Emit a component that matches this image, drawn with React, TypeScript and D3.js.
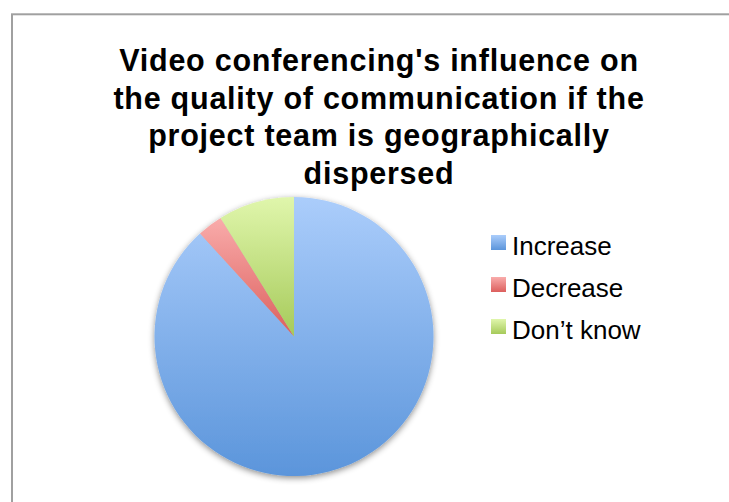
import React from "react";
import * as d3 from "d3";

const categories = ["Increase", "Decrease", "Don’t know"];
const values = [30, 1, 3];
const titleLines = [
  "Video conferencing's influence on",
  "the quality of communication if the",
  "project team is geographically",
  "dispersed",
];
const gradTop = ["#abcdfb", "#f9acab", "#e0f6ac"];
const gradBottom = ["#5b95db", "#dc5f5d", "#a6ca5a"];

export default function App() {
  const W = 729;
  const H = 502;
  const cx = 294;
  const cy = 336.5;
  const r = 139.5;
  const pie = d3.pie<number>().sort(null).value((d) => d);
  const arcs = pie(values);
  const arc = d3.arc<d3.PieArcDatum<number>>().innerRadius(0).outerRadius(r);
  const legendY = d3.scaleLinear().domain([0, 1]).range([255, 297]);
  return (
    <svg width={W} height={H} style={{ position: "absolute", left: 0, top: 0 }}>
      <defs>
        {categories.map((c, i) => (
          <linearGradient key={c} id={"g" + i} x1="0" y1="0" x2="0" y2="1">
            <stop offset="0" stopColor={gradTop[i]} />
            <stop offset="1" stopColor={gradBottom[i]} />
          </linearGradient>
        ))}
        <filter id="sh" x="-20%" y="-20%" width="140%" height="140%">
          <feDropShadow dx="0" dy="2" stdDeviation="3" floodColor="#000" floodOpacity="0.45" />
        </filter>
      </defs>
      <rect width={W} height={H} fill="#fff" />
      <rect x={12} y={14.3} width={W + 20} height={H + 20} fill="none" stroke="#a0a0a0" strokeWidth={2} />
      <g fontFamily="'Liberation Sans', Arial, sans-serif" fontWeight="bold" fontSize={30.5} letterSpacing={0.75} textAnchor="middle" fill="#000">
        {titleLines.map((t, i) => (
          <text key={i} x={379} y={71 + i * 37.5}>
            {t}
          </text>
        ))}
      </g>
      <g transform={`translate(${cx},${cy})`} filter="url(#sh)">
        {arcs.map((a, i) => (
          <path key={i} d={arc(a) || ""} fill={`url(#g${i})`} />
        ))}
      </g>
      <g fontFamily="'Liberation Sans', Arial, sans-serif" fontSize={26} fill="#000">
        {categories.map((c, i) => (
          <g key={c}>
            <rect x={491} y={legendY(i) - 20} width={15} height={15} fill={`url(#g${i})`} />
            <text x={512} y={legendY(i)}>
              {c}
            </text>
          </g>
        ))}
      </g>
    </svg>
  );
}
